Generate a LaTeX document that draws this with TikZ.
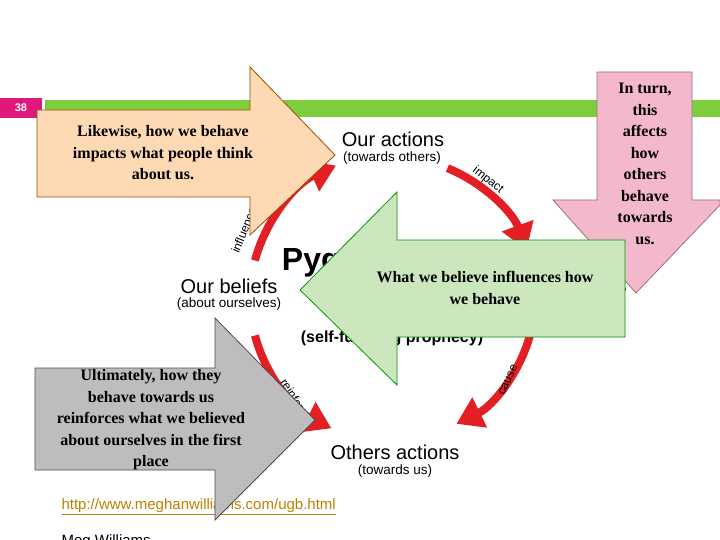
\documentclass[tikz,border=0pt]{standalone}
\usepackage{fontspec}
\setmainfont{Liberation Serif}
\setsansfont{Liberation Sans}
\usetikzlibrary{arrows.meta}
\definecolor{redc}{HTML}{E31E24}
\definecolor{greenbar}{HTML}{7DCE3C}
\definecolor{pinknum}{HTML}{E0187A}
\definecolor{orangef}{HTML}{FDDAB4}
\definecolor{greenf}{HTML}{CCE6BE}
\definecolor{pinkf}{HTML}{F4B8CC}
\definecolor{grayf}{HTML}{BDBDBD}
\definecolor{urlc}{HTML}{C08000}
\tikzset{
  bigarrow/.style={draw=#1!60!black, line width=0.8pt},
  boxtext/.style={font=\fontsize{16}{21.5}\selectfont\bfseries, align=center},
  lab/.style={font=\sffamily\fontsize{20}{21}\selectfont},
  sublab/.style={font=\sffamily\fontsize{13.5}{14}\selectfont},
  arclab/.style={font=\sffamily\fontsize{12}{12}\selectfont},
  cyc/.style={draw=redc, line width=8pt, -{Triangle[length=26pt,width=32pt]}},
}
\begin{document}
\begin{tikzpicture}[x=1pt,y=-1pt]
\useasboundingbox (0,0) rectangle (720,540);
\fill[white] (0,0) rectangle (720,540);
% header bars
\fill[pinknum] (0,98) rectangle (42,118);
\node (num) at (21,108) {\color{white}\sffamily\bfseries\fontsize{11}{12}\selectfont 38};
\fill[greenbar] (45,100) rectangle (720,117);
% cycle
\draw[cyc] (395,298) ++(-68:140) arc[start angle=-68,end angle=-20,radius=140];
\draw[cyc] (395,298) ++(15:140) arc[start angle=15,end angle=64,radius=140];
\draw[cyc] (395,298) ++(165:145) arc[start angle=165,end angle=116,radius=145];
\draw[cyc] (395,298) ++(-165:145) arc[start angle=-165,end angle=-114,radius=145];
\node[arclab, rotate=-38] (limpact) at (488,180) {impact};
\node[arclab, rotate=65] (lcause) at (508,380) {cause};
\node[arclab, rotate=-58] (lreinf) at (296,400) {reinforce};
\node[arclab, rotate=68] (linfl) at (244,230) {influence};
\node[lab] (oa) at (393,139) {Our actions};
\node[sublab] (oas) at (392,158) {(towards others)};
\node[lab] (ob) at (229,286) {Our beliefs};
\node[sublab] (obs) at (229,304) {(about ourselves)};
\node[lab] (ot) at (395,452) {Others actions};
\node[sublab] (ots) at (395,471) {(towards us)};
\node[lab] (obr) at (565,285) {Others beliefs};
\node[font=\sffamily\bfseries\fontsize{32}{34}\selectfont] (title) at (410,262) {Pygmalion effect};
\node[font=\sffamily\bfseries\fontsize{16}{17}\selectfont] (sub) at (392,338) {(self-fulfilling prophecy)};
% url
\node[font=\sffamily\fontsize{15}{16}\selectfont, text=urlc, anchor=west] (url) at (58,507) {\underline{http://www.meghanwilliams.com/ugb.html}};
\node[font=\sffamily\fontsize{15}{16}\selectfont, anchor=west] (meg) at (58,542) {Meg Williams};
% orange arrow
\draw[bigarrow=orange, fill=orangef] (37,110) -- (250,110) -- (250,67) -- (335,155) -- (250,235) -- (250,197) -- (37,197) -- cycle;
\node[boxtext] (t1) at (163,153) {Likewise, how we behave\\impacts what people think\\about us.};
% pink arrow
\draw[bigarrow=pink, fill=pinkf] (597,72) -- (692,72) -- (692,200) -- (720,200) -- (720,205) -- (636,293) -- (553,200) -- (597,200) -- cycle;
\node[boxtext] (t2) at (645,164) {In turn,\\this\\affects\\how\\others\\behave\\towards\\us.};
% green arrow
\draw[bigarrow=green, fill=greenf] (625,240) -- (397,240) -- (397,192) -- (300,290) -- (397,385) -- (397,337) -- (625,337) -- cycle;
\node[boxtext] (t3) at (485,288) {What we believe influences how\\we behave};
% gray arrow
\draw[draw=black!70, line width=0.8pt, fill=grayf] (35,368) -- (215,368) -- (215,318) -- (315,420) -- (215,520) -- (215,470) -- (35,470) -- cycle;
\node[boxtext] (t4) at (151,420) {Ultimately, how they\\behave towards us\\reinforces what we believed\\about ourselves in the first\\place};
\end{tikzpicture}
\end{document}
